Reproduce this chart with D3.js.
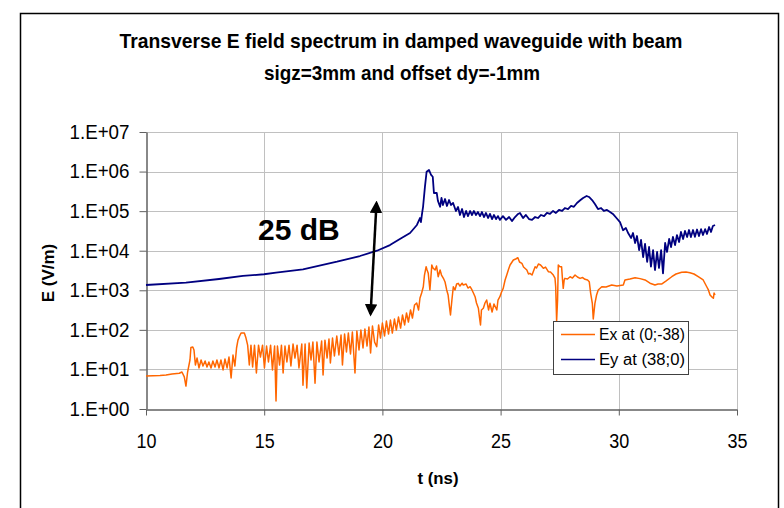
<!DOCTYPE html>
<html>
<head>
<meta charset="utf-8">
<script src="https://cdn.jsdelivr.net/npm/d3@7"></script>
<style>
  html, body { margin: 0; padding: 0; background: #fff; }
  svg { display: block; font-family: "Liberation Sans", Arial, sans-serif; }
</style>
</head>
<body>
<svg id="chart" width="784" height="508"></svg>
<script>
// ---------- data ----------
const titleLines = ["Transverse E field spectrum in damped waveguide with beam", "sigz=3mm and offset dy=-1mm"];
const xTicks = [10, 15, 20, 25, 30, 35];
const yTicks = [1, 1e1, 1e2, 1e3, 1e4, 1e5, 1e6, 1e7];
const yTickLabels = ["1.E+00", "1.E+01", "1.E+02", "1.E+03", "1.E+04", "1.E+05", "1.E+06", "1.E+07"];
const seriesNames = ["Ex at (0;-38)", "Ey at (38;0)"];
const annotation = "25 dB";
const arrowFrom = [19.75, 1.6e5];   // (t, E) ends of the 25 dB arrow
const arrowTo = [19.5, 2.5e2];

const eyT = [10.00,11.69,13.09,14.10,14.99,15.50,16.64,18.08,19.05,19.77,20.32,20.74,21.17,21.46,21.59,21.63,21.68,21.72,21.80,21.87,21.97,22.06,22.13,22.18,22.30,22.35,22.44,22.50,22.56,22.65,22.73,22.82,22.90,22.99,23.11,23.20,23.28,23.37,23.45,23.54,23.62,23.71,23.79,23.87,23.96,24.04,24.13,24.21,24.30,24.38,24.47,24.55,24.64,24.72,24.81,24.89,24.97,25.10,25.23,25.36,25.48,25.61,25.74,25.82,25.95,26.07,26.20,26.33,26.46,26.58,26.71,26.84,26.96,27.09,27.22,27.34,27.47,27.60,27.72,27.85,27.98,28.10,28.23,28.38,28.49,28.64,28.74,28.87,28.99,29.12,29.25,29.37,29.50,29.63,29.75,29.91,30.05,30.18,30.30,30.40,30.52,30.60,30.69,30.77,30.86,30.94,31.03,31.11,31.20,31.28,31.36,31.45,31.53,31.62,31.70,31.79,31.87,31.96,32.04,32.13,32.21,32.29,32.38,32.46,32.55,32.63,32.72,32.80,32.89,32.97,33.05,33.14,33.22,33.31,33.39,33.48,33.56,33.65,33.73,33.82,33.90,33.98,34.07];
const eyE = [1360,1560,1930,2300,2540,2780,3390,5270,7350,10000,13900,19800,28000,44700,67000,53000,89700,129000,415000,990000,1100000,820000,740000,287000,287000,180000,129000,215000,143000,203000,135000,191000,143000,161000,101000,127000,79800,113000,71000,101000,75000,101000,79800,101000,80000,95000,75000,95000,71000,90000,67000,85000,63000,80000,63000,75000,60000,75000,60000,71000,56000,71000,85000,90000,67000,80000,63000,60000,71000,67000,80000,75000,90000,85000,101000,90000,107000,101000,120000,113000,135000,129000,161000,191000,215000,241000,228000,191000,151000,113000,120000,101000,107000,95000,85000,66000,53000,33000,37500,27500,21000,28000,15700,23500,10400,18700,6900,14800,5200,12400,3950,10400,3250,9300,3660,10400,2680,15700,9300,19800,12400,22200,13900,24900,16600,29700,19800,31500,22200,33300,22200,33300,22500,34300,23500,35000,24900,35000,26400,39700,29700,42000,44700];

const exT = [10.00,10.59,10.85,11.10,11.41,11.52,11.62,11.69,11.76,11.86,11.90,11.98,12.03,12.09,12.16,12.24,12.33,12.41,12.50,12.58,12.66,12.75,12.83,12.92,13.00,13.09,13.17,13.26,13.34,13.43,13.51,13.60,13.68,13.76,13.83,13.89,13.96,14.02,14.16,14.23,14.30,14.37,14.44,14.51,14.59,14.67,14.76,14.84,14.93,15.01,15.10,15.18,15.27,15.35,15.44,15.50,15.56,15.65,15.73,15.80,15.88,15.96,16.05,16.13,16.22,16.30,16.39,16.47,16.59,16.64,16.73,16.80,16.90,16.98,17.06,17.15,17.23,17.32,17.43,17.49,17.57,17.66,17.74,17.80,17.89,17.97,18.07,18.16,18.25,18.31,18.40,18.48,18.56,18.65,18.73,18.84,18.92,19.01,19.09,19.18,19.26,19.35,19.43,19.50,19.58,19.67,19.76,19.84,19.92,20.00,20.09,20.17,20.26,20.34,20.42,20.51,20.59,20.68,20.77,20.85,20.94,21.02,21.10,21.19,21.27,21.36,21.45,21.53,21.59,21.66,21.73,21.78,21.85,21.89,21.94,22.01,22.09,22.14,22.23,22.29,22.36,22.44,22.50,22.58,22.65,22.72,22.78,22.82,22.88,22.94,23.00,23.07,23.14,23.21,23.28,23.37,23.42,23.54,23.62,23.71,23.79,23.85,23.92,23.98,24.06,24.11,24.15,24.19,24.27,24.34,24.41,24.49,24.55,24.64,24.72,24.84,24.89,24.97,25.04,25.11,25.19,25.26,25.34,25.40,25.54,25.64,25.73,25.80,25.90,25.97,26.11,26.18,26.24,26.33,26.46,26.52,26.60,26.69,26.81,26.90,27.02,27.11,27.23,27.30,27.33,27.37,27.41,27.44,27.51,27.58,27.62,27.65,27.69,27.72,27.83,27.94,28.04,28.15,28.25,28.36,28.47,28.57,28.68,28.75,28.81,28.88,28.92,28.96,28.99,29.06,29.13,29.28,29.46,29.70,29.92,30.19,30.26,30.47,30.69,30.90,31.11,31.32,31.53,31.66,31.81,31.99,32.24,32.42,32.66,32.84,33.01,33.18,33.36,33.57,33.72,33.79,33.86,33.94,34.00,34.03,34.07];
const exE = [6.8,7.0,7.2,7.7,8.0,8.6,6.5,3.8,8.6,17.3,36,37,31,12.9,19.4,10.9,17.3,12.2,16.3,11.5,15.4,10.9,16.3,11.5,17.3,10.9,17.3,9.7,18.3,10.9,20.6,6.1,23.1,12.2,34.8,55,70,83,83,62,41,12.9,41,11.5,41,8.1,41,20.6,41,10.9,39,15.4,41,9.7,39,1.6,39,12.9,41,8.1,39,15.4,41,12.2,43.9,19.4,41,10.9,43.9,4.0,43.9,3.4,46.5,17.3,49,4.5,49,15.4,52,7.2,55,19.4,58.7,14.5,62,21.8,70,23.1,74,12.9,78.5,27.5,83,24.5,88,8.1,93.5,31,99,34.8,105,39,118,26,125,49,37.5,133,62,149,70,167,78.5,177,83,188,99,211,111,237,133,267,158,318,199,425,477,318,638,853,1230,2430,3940,3250,2680,1020,4360,3660,3250,4110,2200,3250,2430,2010,1620,1020,760,469,237,568,1230,1020,1440,1500,1280,1510,1360,1440,1140,1230,1020,853,689,477,351,199,133,318,351,477,568,318,469,282,450,318,568,689,906,1120,1820,2430,3450,4360,5820,6170,6650,5190,4810,3870,3250,2580,2680,2430,3940,3660,4610,4360,3590,3870,2950,2900,2430,2040,1230,167,568,4360,3940,3940,1820,1120,1820,2000,1930,2200,2040,2430,2170,2000,2100,1890,1820,1650,839,469,188,318,469,760,1020,1230,1210,1360,1280,1360,1820,1930,2080,1970,1820,1510,1360,1440,1440,1710,2200,2580,2850,2900,2780,2580,2200,1820,1230,1020,760,676,627,853,760];

// ---------- layout ----------
const svg = d3.select("#chart");
const plot = { left: 146, right: 737, top: 132, bottom: 409 };
const colors = { ex: "#FF6600", ey: "#000080", grid: "#c0c0c0", axis: "#606060" };
const fontFam = "'Liberation Sans', Arial, sans-serif";

const x = d3.scaleLinear().domain([10, 35]).range([plot.left, plot.right]);
const y = d3.scaleLog().domain([1, 1e7]).range([plot.bottom, plot.top]);

// outer chart border
svg.append("rect").attr("x", 20.5).attr("y", 13.5).attr("width", 758).attr("height", 520)
  .attr("fill", "#fff").attr("stroke", "#000").attr("stroke-width", 1.5);

// title
svg.append("text").attr("x", 401).attr("y", 48).attr("text-anchor", "middle")
  .attr("font-size", 21).attr("font-weight", "bold").attr("fill", "#000")
  .attr("textLength", 563).attr("lengthAdjust", "spacingAndGlyphs").text(titleLines[0]);
svg.append("text").attr("x", 402).attr("y", 80).attr("text-anchor", "middle")
  .attr("font-size", 21).attr("font-weight", "bold").attr("fill", "#000")
  .attr("textLength", 276).attr("lengthAdjust", "spacingAndGlyphs").text(titleLines[1]);

// gridlines
const grid = svg.append("g");
grid.selectAll("line.h").data(yTicks.slice(1)).join("line")
  .attr("x1", plot.left).attr("x2", plot.right)
  .attr("y1", d => Math.round(y(d)) + 0.5).attr("y2", d => Math.round(y(d)) + 0.5)
  .attr("stroke", colors.grid).attr("stroke-width", 1);
grid.selectAll("line.v").data(xTicks.slice(1)).join("line")
  .attr("y1", plot.top).attr("y2", plot.bottom)
  .attr("x1", d => Math.round(x(d)) + 0.5).attr("x2", d => Math.round(x(d)) + 0.5)
  .attr("stroke", colors.grid).attr("stroke-width", 1);

// axes
const yAxis = d3.axisLeft(y).tickValues(yTicks)
  .tickFormat((d, i) => yTickLabels[i]).tickSizeInner(7).tickSizeOuter(0).tickPadding(10);
const gy = svg.append("g").attr("transform", `translate(${plot.left + 0.5},0)`).call(yAxis);
gy.select(".domain").attr("stroke", colors.axis).attr("stroke-width", 1.5);
gy.selectAll(".tick line").attr("stroke", colors.axis);
gy.selectAll(".tick text").attr("font-size", 20).attr("fill", "#000")
  .attr("font-family", fontFam).attr("textLength", 60).attr("lengthAdjust", "spacingAndGlyphs");

const xAxis = d3.axisBottom(x).tickValues(xTicks).tickFormat(d3.format("d"))
  .tickSizeInner(6).tickSizeOuter(0).tickPadding(18);
const gx = svg.append("g").attr("transform", `translate(0,${plot.bottom + 0.5})`).call(xAxis);
gx.select(".domain").attr("stroke", colors.axis).attr("stroke-width", 1.5);
gx.selectAll(".tick line").attr("stroke", colors.axis);
gx.selectAll(".tick text").attr("font-size", 20).attr("fill", "#000")
  .attr("font-family", fontFam).attr("textLength", 20).attr("lengthAdjust", "spacingAndGlyphs");

// axis titles
svg.append("text").attr("x", 438).attr("y", 484).attr("text-anchor", "middle")
  .attr("font-size", 17).attr("font-weight", "bold").attr("textLength", 41)
  .attr("lengthAdjust", "spacingAndGlyphs").text("t (ns)");
svg.append("text").attr("transform", "translate(54,273) rotate(-90)").attr("text-anchor", "middle")
  .attr("font-size", 17).attr("font-weight", "bold").text("E (V/m)");

// series
const line = d3.line().x(d => x(d[0])).y(d => y(d[1]));
const exData = exT.map((t, i) => [t, exE[i]]);
const eyData = eyT.map((t, i) => [t, eyE[i]]);
svg.append("path").datum(exData).attr("d", line).attr("fill", "none")
  .attr("stroke", colors.ex).attr("stroke-width", 1.5).attr("stroke-linejoin", "round");
svg.append("path").datum(eyData).attr("d", line).attr("fill", "none")
  .attr("stroke", colors.ey).attr("stroke-width", 1.8).attr("stroke-linejoin", "round");

// 25 dB annotation + double arrow
svg.append("text").attr("x", 258).attr("y", 240).attr("font-size", 30).attr("font-weight", "bold")
  .attr("fill", "#000").text(annotation);
const defs = svg.append("defs");
defs.append("marker").attr("id", "ah").attr("viewBox", "0 0 10 10").attr("refX", 8).attr("refY", 5)
  .attr("markerWidth", 5).attr("markerHeight", 5).attr("orient", "auto-start-reverse")
  .append("path").attr("d", "M0,0 L10,5 L0,10 z").attr("fill", "#000");
svg.append("line")
  .attr("x1", x(arrowFrom[0])).attr("y1", y(arrowFrom[1]))
  .attr("x2", x(arrowTo[0])).attr("y2", y(arrowTo[1]))
  .attr("stroke", "#000").attr("stroke-width", 2.5)
  .attr("marker-start", "url(#ah)").attr("marker-end", "url(#ah)");

// legend
const lg = svg.append("g").attr("transform", "translate(553,321)");
lg.append("rect").attr("x", 0.5).attr("y", 0.5).attr("width", 135).attr("height", 53)
  .attr("fill", "#fff").attr("stroke", "#404040").attr("stroke-width", 1);
[colors.ex, colors.ey].forEach((c, i) => {
  const yy = 13.5 + i * 25;
  lg.append("line").attr("x1", 8).attr("x2", 42).attr("y1", yy).attr("y2", yy)
    .attr("stroke", c).attr("stroke-width", 1.5);
  lg.append("text").attr("x", 46).attr("y", yy + 5.5).attr("font-size", 16).attr("fill", "#000")
    .attr("textLength", 86).attr("lengthAdjust", "spacingAndGlyphs")
    .text(seriesNames[i]);
});
</script>
</body>
</html>
